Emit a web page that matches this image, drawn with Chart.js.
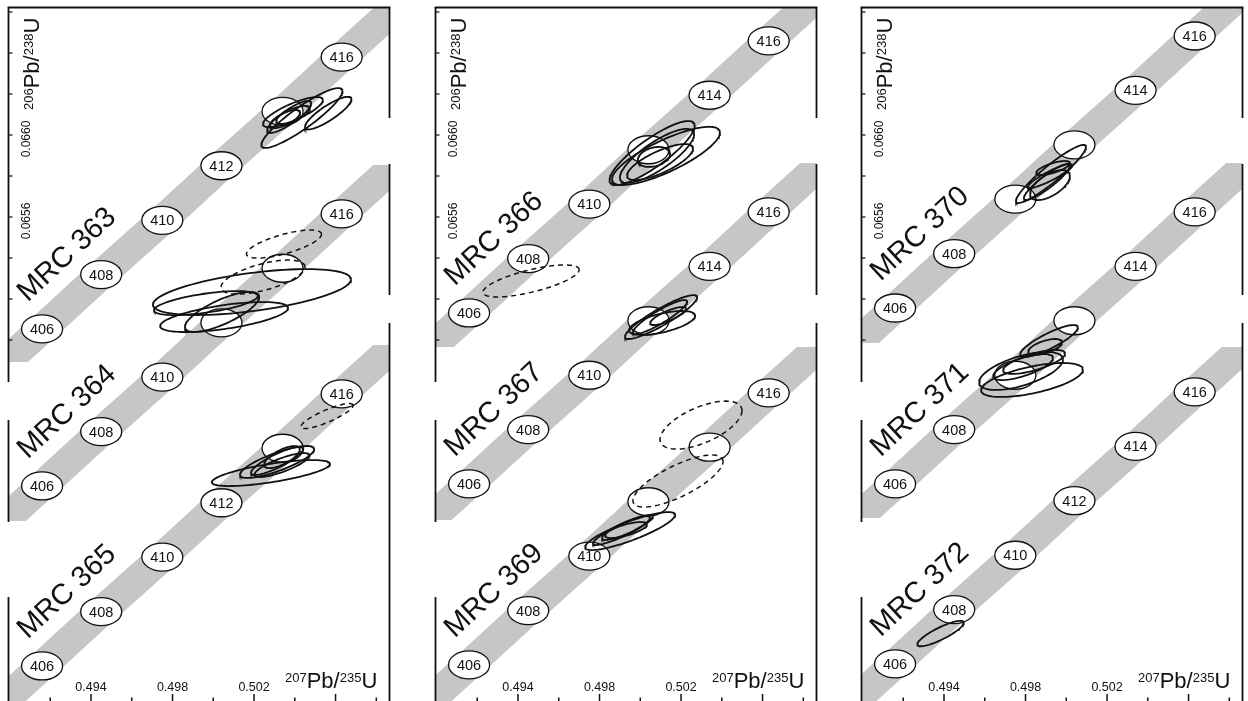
<!DOCTYPE html>
<html lang="en">
<head>
  <meta charset="UTF-8">
  <title>U-Pb concordia diagrams, MRC 363-372</title>
  <script src="https://cdn.jsdelivr.net/npm/chart.js@4.4.1/dist/chart.umd.min.js"></script>
  <style>
    body { margin: 0; background: #fff; overflow: hidden; }
    #figure { position: relative; width: 1248px; height: 701px; }
    #figure canvas { position: absolute; top: 0; }
  </style>
</head>
<body>
  <div id="figure">
    <canvas id="col0" width="395" height="701" style="left:0px"></canvas>
    <canvas id="col1" width="395" height="701" style="left:427px"></canvas>
    <canvas id="col2" width="395" height="701" style="left:853px"></canvas>
  </div>

  <script>
    // age marks on the concordia (Ma) and their 207Pb/235U values
    const ages = [406, 408, 410, 412, 414, 416];
    const concX = [0.4916, 0.4945, 0.4975, 0.5004, 0.5034, 0.5063];

    // 206Pb/238U of the age marks for each sample, read on the column's axis
    const conc363 = [0.065054, 0.065319, 0.065584, 0.065850, 0.066115, 0.066380];
    const conc364 = [0.064288, 0.064553, 0.064819, 0.065084, 0.065350, 0.065615];
    const conc365 = [0.063410, 0.063675, 0.063941, 0.064206, 0.064472, 0.064737];
    const conc366 = [0.065132, 0.065397, 0.065663, 0.065928, 0.066194, 0.066459];
    const conc367 = [0.064298, 0.064563, 0.064828, 0.065094, 0.065359, 0.065625];
    const conc369 = [0.063415, 0.063680, 0.063946, 0.064211, 0.064477, 0.064742];
    const conc370 = [0.065156, 0.065421, 0.065687, 0.065952, 0.066218, 0.066483];
    const conc371 = [0.064298, 0.064563, 0.064828, 0.065094, 0.065359, 0.065625];
    const conc372 = [0.063420, 0.063685, 0.063950, 0.064216, 0.064481, 0.064747];

    // age marks drawn without their number (hidden under the analyses)
    const blank363 = [414];
    const blank364 = [412, 414];
    const blank365 = [414];
    const blank366 = [412];
    const blank367 = [412];
    const blank369 = [412, 414];
    const blank370 = [410, 412];
    const blank371 = [410, 412];
    const blank372 = [];

    // analyses: [207Pb/235U, 206Pb/238U, err 207/235, err 206/238, rho]
    const ell363 = [
      [0.50435, 0.066083, 0.00199, 0.000146, 0.9],
      [0.50564, 0.066107, 0.00114, 0.0000795, 0.85],
      [0.50391, 0.066112, 0.00147, 0.0000732, 0.8],
      [0.50372, 0.066088, 0.00108, 0.0000780, 0.85],
      [0.50391, 0.066098, 0.00083, 0.0000439, 0.7],
      [0.50352, 0.066078, 0.00074, 0.0000439, 0.7]
    ];
    const ell364 = [
      [0.50190, 0.065234, 0.00486, 0.000112, 0.55],
      [0.49964, 0.065180, 0.00255, 0.0000585, 0.6],
      [0.50053, 0.065112, 0.00314, 0.0000732, 0.6],
      [0.50043, 0.065137, 0.00182, 0.0000976, 0.75]
    ];
    const ell365 = [
      [0.50283, 0.064351, 0.00290, 0.0000634, 0.7],
      [0.50313, 0.064405, 0.00182, 0.0000780, 0.8],
      [0.50313, 0.064410, 0.00128, 0.0000683, 0.85],
      [0.50337, 0.064390, 0.00135, 0.0000585, 0.8],
      [0.50337, 0.064429, 0.00088, 0.0000537, 0.7]
    ];
    const ell366 = [
      [0.50058, 0.065912, 0.00209, 0.000156, 0.85],
      [0.50126, 0.065898, 0.00265, 0.000142, 0.8],
      [0.50082, 0.065898, 0.00182, 0.000132, 0.8],
      [0.50067, 0.065893, 0.00079, 0.0000488, 0.3],
      [0.50097, 0.065868, 0.00162, 0.0000878, 0.75]
    ];
    const ell367 = [
      [0.50102, 0.065112, 0.00177, 0.000107, 0.9],
      [0.50107, 0.065083, 0.00162, 0.0000585, 0.6],
      [0.50097, 0.065112, 0.00133, 0.0000829, 0.9],
      [0.50136, 0.065117, 0.00088, 0.0000439, 0.8]
    ];
    const ell369 = [
      [0.49950, 0.064068, 0.00221, 0.0000927, 0.85],
      [0.49930, 0.064083, 0.00118, 0.0000585, 0.85],
      [0.49930, 0.064073, 0.00103, 0.0000390, 0.7],
      [0.49915, 0.064073, 0.00147, 0.0000732, 0.9]
    ];
    const ell370 = [
      [0.49925, 0.065810, 0.00172, 0.000142, 0.93],
      [0.49905, 0.065771, 0.00113, 0.0000878, 0.9],
      [0.49920, 0.065800, 0.00108, 0.0000585, 0.9],
      [0.49935, 0.065839, 0.00083, 0.0000341, 0.7],
      [0.49920, 0.065756, 0.00098, 0.0000732, 0.6]
    ];
    const ell371 = [
      [0.49832, 0.064805, 0.00250, 0.0000829, 0.6],
      [0.49778, 0.064849, 0.00206, 0.0000927, 0.6],
      [0.49915, 0.064995, 0.00142, 0.0000780, 0.85],
      [0.49896, 0.064966, 0.00083, 0.0000390, 0.6],
      [0.49788, 0.064868, 0.00147, 0.0000634, 0.7],
      [0.49842, 0.064893, 0.00152, 0.0000585, 0.7]
    ];
    const ell372 = [
      [0.49383, 0.063568, 0.00114, 0.0000620, 0.85]
    ];

    // excluded analyses (dashed)
    const excl364 = [
      [0.50347, 0.065468, 0.00184, 0.0000683, 0.7],
      [0.50244, 0.065307, 0.00206, 0.0000829, 0.6]
    ];
    const excl365 = [[0.50558, 0.064629, 0.00128, 0.0000610, 0.85]];
    const excl366 = [[0.49464, 0.065288, 0.00236, 0.0000780, 0.7]];
    const excl369 = [
      [0.50298, 0.064585, 0.00201, 0.000117, 0.6],
      [0.50185, 0.064312, 0.00221, 0.000127, 0.75]
    ];

    // axis ticks
    const xTicks = [0.492, 0.494, 0.496, 0.498, 0.500, 0.502, 0.504, 0.506, 0.508];
    const xTickLabels = ['0.494', '0.498', '0.502'];
    const yTicks = [0.0650, 0.0652, 0.0654, 0.0656, 0.0658, 0.0660, 0.0662, 0.0664, 0.0666];
    const yTickLabels = ['0.0656', '0.0660'];

    // three columns, three samples each; clip = band extent on the page (px)
    const columns = [
      [
        { name: 'MRC 363', conc: conc363, ell: ell363, excl: [], blank: blank363, clip: [8, 362] },
        { name: 'MRC 364', conc: conc364, ell: ell364, excl: excl364, blank: blank364, clip: [165, 521] },
        { name: 'MRC 365', conc: conc365, ell: ell365, excl: excl365, blank: blank365, clip: [345, 720] }
      ],
      [
        { name: 'MRC 366', conc: conc366, ell: ell366, excl: excl366, blank: blank366, clip: [8, 347] },
        { name: 'MRC 367', conc: conc367, ell: ell367, excl: [], blank: blank367, clip: [163, 520] },
        { name: 'MRC 369', conc: conc369, ell: ell369, excl: excl369, blank: blank369, clip: [347, 720] }
      ],
      [
        { name: 'MRC 370', conc: conc370, ell: ell370, excl: [], blank: blank370, clip: [8, 343] },
        { name: 'MRC 371', conc: conc371, ell: ell371, excl: [], blank: blank371, clip: [163, 518] },
        { name: 'MRC 372', conc: conc372, ell: ell372, excl: [], blank: blank372, clip: [347, 720] }
      ]
    ];

    const FONT = '"Liberation Sans", Arial, Helvetica, sans-serif';
    const INK = '#111';
    const BAND = '#c5c6c8';

    // pixel scale of the original figure
    const PX_X = 20380;   // px per unit 207/235
    const PX_Y = 205000;  // px per unit 206/238
    const X_MIN = 0.494 - 91 / PX_X;
    const X_MAX = X_MIN + 395 / PX_X;
    const Y_MAX = 0.0660 + 135 / PX_Y;
    const Y_MIN = Y_MAX - 701 / PX_Y;

    // frame geometry (px, same in each column)
    const FL = 8.5, FR = 389.5, FT = 7.5;
    const leftSegs = [[FT, 382], [420, 522], [597, 701]];
    const rightSegs = [[FT, 118], [164, 295], [323, 701]];

    function ellipsePoints(e) {
      const [cx, cy, sx, sy, r] = e;
      const k = Math.sqrt(1 - r * r);
      const pts = [];
      for (let i = 0; i <= 96; i++) {
        const t = i / 96 * 2 * Math.PI;
        pts.push({ x: cx + sx * Math.cos(t), y: cy + sy * (r * Math.cos(t) + k * Math.sin(t)) });
      }
      return pts;
    }

    function seg(ctx, x1, y1, x2, y2) {
      ctx.beginPath();
      ctx.moveTo(x1, y1);
      ctx.lineTo(x2, y2);
      ctx.stroke();
    }

    // isotope ratio title with superscript mass numbers
    function isotopeTitle(ctx, parts) {
      let x = 0;
      parts.forEach(([txt, sup]) => {
        ctx.font = (sup ? '13px ' : '22px ') + FONT;
        ctx.fillText(txt, x, sup ? -6 : 0);
        x += ctx.measureText(txt).width;
      });
    }

    const concordiaPlugin = {
      id: 'concordia',
      beforeDatasetsDraw(chart) {
        const { ctx, scales: { x, y } } = chart;
        const panels = chart.options.plugins.concordia.panels;

        // grey concordia bands
        panels.forEach(p => {
          const pts = concX.map((v, i) => [x.getPixelForValue(v), y.getPixelForValue(p.conc[i])]);
          const a = pts[0], b = pts[pts.length - 1];
          const len = Math.hypot(b[0] - a[0], b[1] - a[1]);
          const dx = (b[0] - a[0]) / len, dy = (b[1] - a[1]) / len;
          ctx.save();
          ctx.beginPath();
          ctx.rect(FL, p.clip[0], FR - FL, p.clip[1] - p.clip[0]);
          ctx.clip();
          ctx.strokeStyle = BAND;
          ctx.lineWidth = 30;
          ctx.lineCap = 'butt';
          ctx.beginPath();
          ctx.moveTo(a[0] - dx * 160, a[1] - dy * 160);
          pts.forEach(q => ctx.lineTo(q[0], q[1]));
          ctx.lineTo(b[0] + dx * 160, b[1] + dy * 160);
          ctx.stroke();
          ctx.restore();
        });

        // age marks and sample names
        panels.forEach(p => {
          ctx.save();
          ages.forEach((age, i) => {
            const px = x.getPixelForValue(concX[i]);
            const py = y.getPixelForValue(p.conc[i]);
            ctx.beginPath();
            ctx.ellipse(px, py, 20.5, 14, 0, 0, 2 * Math.PI);
            ctx.fillStyle = '#fff';
            ctx.fill();
            ctx.lineWidth = 1.3;
            ctx.strokeStyle = INK;
            ctx.stroke();
            if (!p.blank.includes(age)) {
              ctx.fillStyle = INK;
              ctx.font = '14.5px ' + FONT;
              ctx.textAlign = 'center';
              ctx.textBaseline = 'middle';
              ctx.fillText(String(age), px, py + 1);
            }
          });
          const ox = x.getPixelForValue(concX[0]) + 25;
          const oy = y.getPixelForValue(p.conc[0]) - 74;
          ctx.translate(ox, oy);
          ctx.rotate(-43 * Math.PI / 180);
          ctx.fillStyle = INK;
          ctx.font = '29px ' + FONT;
          ctx.textAlign = 'center';
          ctx.textBaseline = 'middle';
          ctx.fillText(p.name, 0, 0);
          ctx.restore();
        });
      },
      afterDatasetsDraw(chart) {
        const { ctx, scales: { x, y } } = chart;
        ctx.save();
        ctx.strokeStyle = INK;
        ctx.fillStyle = INK;

        // frame pieces
        ctx.lineWidth = 1.8;
        seg(ctx, FL - 0.9, FT, FR + 0.9, FT);
        leftSegs.forEach(s => seg(ctx, FL, s[0], FL, s[1]));
        rightSegs.forEach(s => seg(ctx, FR, s[0], FR, s[1]));

        // 206/238 ticks and labels
        ctx.lineWidth = 1.2;
        yTicks.forEach(v => {
          const py = y.getPixelForValue(v);
          seg(ctx, FL, py, FL + 4, py);
        });
        ctx.font = '12px ' + FONT;
        ctx.textAlign = 'center';
        ctx.textBaseline = 'middle';
        yTickLabels.forEach(t => {
          const py = y.getPixelForValue(parseFloat(t));
          ctx.save();
          ctx.translate(27, py + 4);
          ctx.rotate(-Math.PI / 2);
          ctx.fillText(t, 0, 0);
          ctx.restore();
        });

        // 207/235 ticks and labels
        ctx.lineWidth = 1.5;
        xTicks.forEach(v => {
          const px = x.getPixelForValue(v);
          const major = xTickLabels.includes(v.toFixed(3)) || Math.abs(v - 0.506) < 1e-9;
          seg(ctx, px, major ? 694 : 697.5, px, 701);
        });
        ctx.font = '12.5px ' + FONT;
        ctx.textBaseline = 'alphabetic';
        xTickLabels.forEach(t => {
          ctx.fillText(t, x.getPixelForValue(parseFloat(t)), 690.5);
        });

        // axis titles
        ctx.textAlign = 'left';
        ctx.save();
        ctx.translate(285, 688);
        isotopeTitle(ctx, [['207', true], ['Pb/', false], ['235', true], ['U', false]]);
        ctx.restore();
        ctx.save();
        ctx.translate(39, 110);
        ctx.rotate(-Math.PI / 2);
        isotopeTitle(ctx, [['206', true], ['Pb/', false], ['238', true], ['U', false]]);
        ctx.restore();

        ctx.restore();
      }
    };

    columns.forEach((panels, c) => {
      const datasets = [];
      panels.forEach(p => {
        p.ell.forEach(e => datasets.push({
          label: p.name,
          data: ellipsePoints(e),
          showLine: true,
          borderColor: INK,
          borderWidth: 1.8,
          pointRadius: 0,
          tension: 0
        }));
        p.excl.forEach(e => datasets.push({
          label: p.name + ' (excluded)',
          data: ellipsePoints(e),
          showLine: true,
          borderColor: INK,
          borderWidth: 1.5,
          borderDash: [5, 4],
          pointRadius: 0,
          tension: 0
        }));
      });

      new Chart(document.getElementById('col' + c), {
        type: 'scatter',
        data: { datasets: datasets },
        options: {
          responsive: false,
          animation: false,
          events: [],
          layout: { padding: 0 },
          scales: {
            x: { type: 'linear', display: false, min: X_MIN, max: X_MAX },
            y: { type: 'linear', display: false, min: Y_MIN, max: Y_MAX }
          },
          plugins: {
            legend: { display: false },
            tooltip: { enabled: false },
            concordia: { panels: panels }
          }
        },
        plugins: [concordiaPlugin]
      });
    });
  </script>
</body>
</html>
